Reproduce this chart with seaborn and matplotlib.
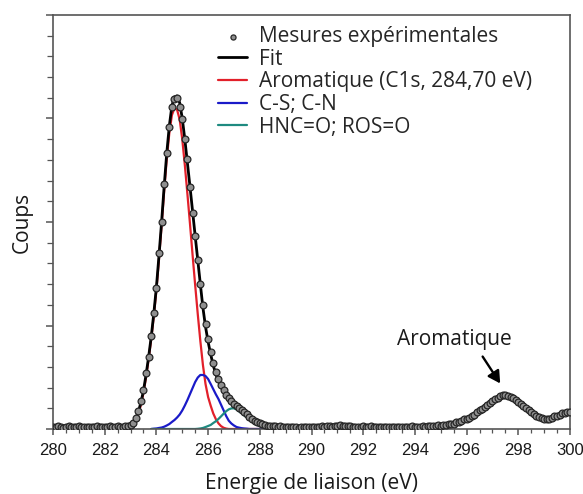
import numpy as np
import pandas as pd
import matplotlib
matplotlib.use("Agg")
import matplotlib.pyplot as plt
from matplotlib.ticker import MultipleLocator, NullFormatter
import seaborn as sns

# ---- XPS C1s spectrum: binding energy (eV) and counts ----
energy = np.round(np.arange(2800, 3001) / 10, 1)          # 280.0 ... 300.0 eV

measured_counts = [
    24, 19, 27, 19, 14, 21, 25, 17, 22, 19,                 # 280
    27, 23, 15, 19, 24, 21, 17, 25, 20, 16,                 # 281
    23, 19, 25, 18, 22, 26, 19, 23, 27, 29,                 # 282
    34, 58, 106, 174, 270, 377, 541, 696, 898, 1121,        # 283
    1362, 1700, 2000, 2367, 2666, 2917, 3111, 3188, 3197, 3111,  # 284
    2995, 2801, 2608, 2340, 2090, 1860, 1630, 1401, 1198, 1010,  # 285
    869, 744, 638, 551, 483, 425, 377, 328, 299, 270,       # 286
    242, 222, 203, 184, 164, 145, 118, 98, 82, 68,          # 287
    56, 46, 38, 33, 30, 27, 29, 24, 27, 21,                 # 288
    24, 19, 23, 17, 21, 14, 17, 20, 15, 19,                 # 289
    17, 22, 18, 24, 27, 21, 25, 29, 23, 33,                 # 290
    29, 37, 31, 25, 31, 27, 21, 24, 19, 23,                 # 291
    27, 21, 19, 25, 20, 17, 22, 19, 16, 21,                 # 292
    19, 15, 20, 17, 21, 18, 23, 17, 21, 25,                 # 293
    19, 23, 21, 27, 24, 28, 25, 31, 29, 35,                 # 294
    33, 39, 37, 44, 48, 53, 63, 72, 79, 92,                 # 295
    101, 111, 124, 140, 164, 179, 193, 213, 232, 251,       # 296
    270, 290, 304, 319, 324, 324, 319, 309, 295, 280,       # 297
    261, 242, 227, 203, 184, 164, 145, 130, 116, 106,       # 298
    97, 97, 101, 111, 121, 130, 140, 150, 159, 164,         # 299
    169,                                                    # 300
]

# Fitted components on the 283.0 ... 288.4 eV window
component_energy = np.round(np.arange(2830, 2885) / 10, 1)

aromatic_counts = [
    10, 34, 77, 145, 232, 348, 502, 676, 869, 1092,
    1343, 1642, 1961, 2299, 2608, 2859, 3033, 3100, 3085, 2990,
    2801, 2550, 2270, 1980, 1680, 1390, 1110, 850, 618, 435,
    309, 225, 150, 95, 55, 28, 12, 4, 0, 0,
    0, 0, 0, 0, 0, 0, 0, 0, 0, 0,
    0, 0, 0, 0, 0,
]
cs_cn_counts = [
    0, 0, 0, 0, 0, 0, 0, 0, 0, 3,
    5, 10, 14, 22, 34, 48, 68, 87, 111, 140,
    179, 227, 280, 338, 396, 454, 497, 522, 522, 512,
    483, 435, 385, 335, 290, 235, 180, 125, 80, 53,
    34, 19, 13, 8, 5, 3, 0, 0, 0, 0,
    0, 0, 0, 0, 0,
]
hnco_ros_counts = [
    0, 0, 0, 0, 0, 0, 0, 0, 0, 0,
    0, 0, 0, 0, 0, 0, 0, 0, 0, 0,
    0, 0, 0, 0, 0, 0, 2, 5, 10, 19,
    29, 39, 58, 75, 97, 122, 148, 172, 190, 199,
    200, 188, 170, 150, 130, 112, 90, 70, 52, 38,
    27, 18, 11, 6, 3,
]
background_counts = 22

labels = ["Mesures expérimentales", "Fit", "Aromatique (C1s, 284,70 eV)",
          "C-S; C-N", "HNC=O; ROS=O"]
colors = {"fit": "black", "arom": "#e2202a", "cs": "#1a1ac8", "hn": "#1e8a80"}

# ---- tables ----
meas = pd.DataFrame({"E": energy, "counts": measured_counts})
comp = pd.DataFrame({"E": component_energy, "arom": aromatic_counts,
                     "cs": cs_cn_counts, "hn": hnco_ros_counts})

fit_energy = energy[energy <= 295.0]
fit_sum = comp.set_index("E").reindex(fit_energy).fillna(0).sum(axis=1).to_numpy()
fit = pd.DataFrame({"E": fit_energy, "counts": background_counts + fit_sum})

# ---- figure ----
sns.set_theme(style="ticks")
plt.rcParams["font.family"] = ["Liberation Sans", "DejaVu Sans"]
label_font = ["Open Sans", "DejaVu Sans"]
text_size = 15

fig = plt.figure(figsize=(5.83, 4.94), dpi=100)
ax = fig.add_axes([53 / 583, 65 / 494, 517 / 583, 414 / 494])

lw_comp = 1.6
sns.lineplot(data=comp, x="E", y="arom", ax=ax, color=colors["arom"], lw=lw_comp,
             estimator=None, sort=False, label=labels[2], zorder=2)
sub = comp[comp["E"] >= 283.8]
sns.lineplot(data=sub, x="E", y="cs", ax=ax, color=colors["cs"], lw=lw_comp,
             estimator=None, sort=False, label=labels[3], zorder=2)
sns.lineplot(data=sub, x="E", y="hn", ax=ax, color=colors["hn"], lw=lw_comp,
             estimator=None, sort=False, label=labels[4], zorder=2)
sns.lineplot(data=fit, x="E", y="counts", ax=ax, color=colors["fit"], lw=2.0,
             estimator=None, sort=False, label=labels[1], zorder=3)
sns.scatterplot(data=meas, x="E", y="counts", ax=ax, s=24, color="#8f8f8f",
                edgecolor="#262626", linewidth=0.9, label=labels[0], zorder=4)

ax.set_xlim(280, 300)
ax.set_ylim(0, 4000)
ax.xaxis.set_major_locator(MultipleLocator(2))
ax.xaxis.set_minor_locator(MultipleLocator(0.5))
ax.yaxis.set_major_locator(MultipleLocator(1000))
ax.yaxis.set_minor_locator(MultipleLocator(200))
ax.yaxis.set_major_formatter(NullFormatter())

spine_col = "#555555"
for s in ax.spines.values():
    s.set_visible(True)
    s.set_color(spine_col)
    s.set_linewidth(1.2)
ax.tick_params(axis="both", which="both", direction="out", color=spine_col,
               top=False, right=False)
ax.tick_params(axis="x", which="major", length=4, width=1.1, labelsize=12,
               pad=6, labelcolor="#1a1a1a")
ax.tick_params(axis="x", which="minor", length=3, width=0.9)
ax.tick_params(axis="y", which="major", length=5, width=1.1)
ax.tick_params(axis="y", which="minor", length=4, width=0.9)

ax.set_xlabel("Energie de liaison (eV)", family=label_font, fontsize=text_size,
              color="#1a1a1a")
ax.set_ylabel("Coups", family=label_font, fontsize=text_size, color="#1a1a1a")
ax.xaxis.set_label_coords(0.5, -0.107)
ax.yaxis.set_label_coords(-0.040, 0.5)

# legend in the order measurement, fit, components
handles, labs = ax.get_legend_handles_labels()
order = [labs.index(l) for l in labels]
ax.legend([handles[i] for i in order], [labs[i] for i in order],
          loc="upper left", bbox_to_anchor=((218 - 53) / 517, (429 - 26) / 414),
          borderaxespad=0, borderpad=0, frameon=False,
          prop={"family": label_font, "size": text_size},
          handlelength=1.4, handletextpad=0.55, labelspacing=0.08,
          markerscale=0.75)

# satellite annotation
ax.text(295.53, 860, "Aromatique", ha="center", va="center",
        family=label_font, fontsize=text_size, color="#1a1a1a")
ax.annotate("", xy=(297.3, 440), xytext=(296.62, 700),
            arrowprops=dict(arrowstyle="-|>,head_length=0.45,head_width=0.25",
                            color="black", lw=1.7,
                            mutation_scale=16, shrinkA=0, shrinkB=0))

fig.savefig("out.png", dpi=100)
